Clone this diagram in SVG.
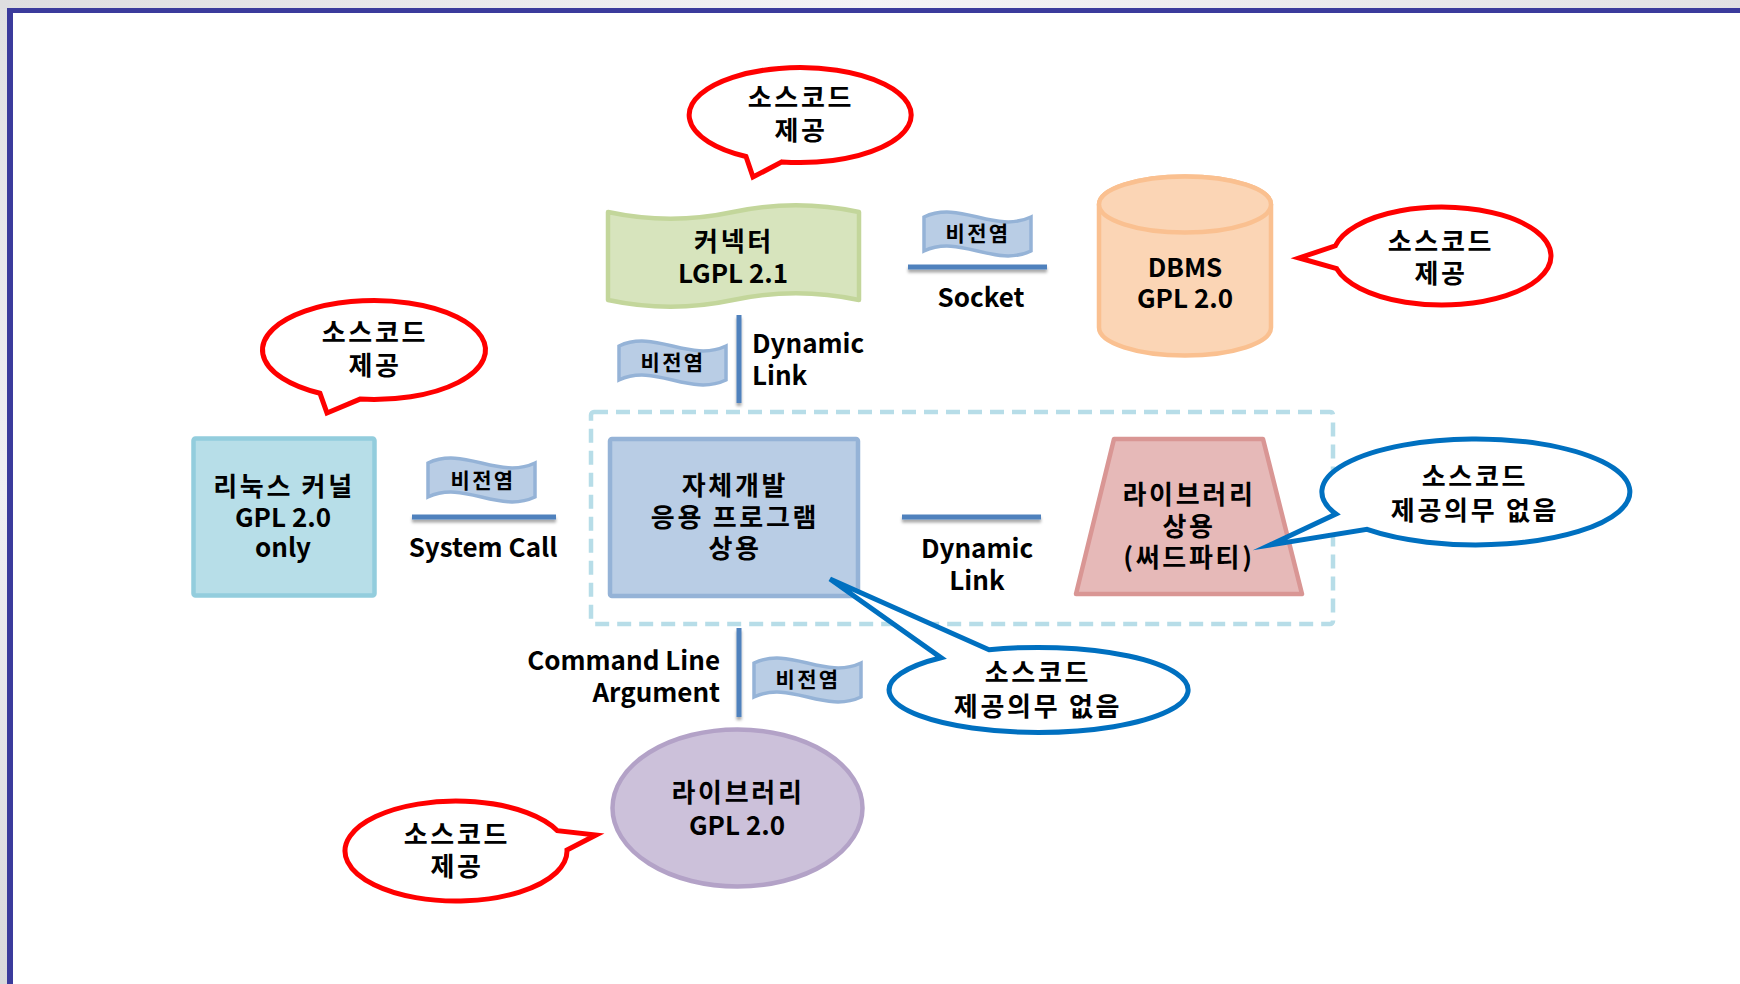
<svg xmlns="http://www.w3.org/2000/svg" xmlns:xlink="http://www.w3.org/1999/xlink" width="1740" height="984" viewBox="0 0 1740 984">
<style>
.t{font-family:"Malgun Gothic","Noto Sans CJK KR","Noto Sans",sans-serif;font-weight:bold;font-size:26px;fill:#000;text-anchor:middle}
.k{letter-spacing:2.7px}
.f{font-size:21px;letter-spacing:2.3px}
.ln{stroke:#4F81BD;stroke-width:5;fill:none;filter:url(#sh)}
.cr{fill:#fff;stroke:#FF0000;stroke-width:5;stroke-miterlimit:10}
.cb{fill:#fff;stroke:#0070C0;stroke-width:5;stroke-miterlimit:10}
.flag{fill:#B9CDE5;stroke:#95B3D7;stroke-width:3.5}
</style>
<defs>
<linearGradient id="bg" x1="0" y1="0" x2="1" y2="0">
<stop offset="0" stop-color="#DEDEE0"/><stop offset="0.5" stop-color="#F4F3F6"/><stop offset="1" stop-color="#E2E2E4"/>
</linearGradient>
<linearGradient id="bgv" x1="0" y1="0" x2="0" y2="1">
<stop offset="0" stop-color="#E0E0E2"/><stop offset="0.5" stop-color="#F0EFF3"/><stop offset="1" stop-color="#D9D9DB"/>
</linearGradient>
<filter id="sh" filterUnits="userSpaceOnUse" x="0" y="0" width="1740" height="984">
<feDropShadow dx="0" dy="3" stdDeviation="1.5" flood-color="#000" flood-opacity="0.35"/>
</filter>
<path id="flagp" d="M0,5 C36,-12 71,22 107,5 L107,39 C71,56 36,22 0,39 Z"/>
</defs>

<g id="frame">
<rect x="0" y="0" width="1740" height="984" fill="url(#bgv)"/>
<rect x="0" y="0" width="1740" height="9" fill="url(#bg)"/>
<rect x="7" y="8" width="1733" height="976" fill="#3B3B9C"/>
<rect x="13" y="13" width="1727" height="971" fill="#FFFFFF"/>
</g>

<g id="group-box">
<rect x="591" y="412" width="742" height="212" rx="3" fill="none" stroke="#B7DDE8" stroke-width="4.5" stroke-dasharray="14 8"/>
</g>

<g id="connectors">
<line class="ln" x1="908" y1="267" x2="1047" y2="267"/>
<line class="ln" x1="739" y1="315" x2="739" y2="403"/>
<line class="ln" x1="412" y1="517" x2="556" y2="517"/>
<line class="ln" x1="902" y1="517" x2="1041" y2="517"/>
<line class="ln" x1="739" y1="628" x2="739" y2="717"/>
</g>

<g id="connector-labels">
<text class="t" x="981" y="307">Socket</text>
<text class="t" x="752" y="353" style="text-anchor:start">Dynamic</text>
<text class="t" x="752" y="385" style="text-anchor:start">Link</text>
<text class="t" x="483" y="557">System Call</text>
<text class="t" x="977" y="558">Dynamic</text>
<text class="t" x="977" y="590">Link</text>
<text class="t" x="720" y="670" style="text-anchor:end">Command Line</text>
<text class="t" x="720" y="702" style="text-anchor:end">Argument</text>
</g>

<g id="flag-socket">
<use xlink:href="#flagp" class="flag" x="924" y="212"/>
<text class="t f" x="978" y="241">비전염</text>
</g>
<g id="flag-dynamic">
<use xlink:href="#flagp" class="flag" x="619" y="341"/>
<text class="t f" x="673" y="370">비전염</text>
</g>
<g id="flag-syscall">
<use xlink:href="#flagp" class="flag" x="428" y="458"/>
<text class="t f" x="483" y="488">비전염</text>
</g>
<g id="flag-cmdline">
<use xlink:href="#flagp" class="flag" x="754" y="658"/>
<text class="t f" x="808" y="687">비전염</text>
</g>

<g id="connector-node">
<path d="M608,212 C650,221 691,221 733,212 C775,203 817,203 859,212 L859,300 C817,291 775,291 733,300 C691,309 650,309 608,300 Z" fill="#D7E4BD" stroke="#C3D69B" stroke-width="4.5" stroke-linejoin="round"/>
<text class="t k" x="734" y="251">커넥터</text>
<text class="t" x="733" y="283">LGPL 2.1</text>
</g>

<g id="dbms">
<path d="M1099,204.5 L1099,327.5 A86,28 0 0 0 1271,327.5 L1271,204.5 A86,28 0 0 0 1099,204.5 Z" fill="#FBD5B5" stroke="#FAC090" stroke-width="4.5"/>
<ellipse cx="1185" cy="204.5" rx="86" ry="28" fill="#FBD5B5" stroke="#FAC090" stroke-width="4.5"/>
<text class="t" x="1185" y="277">DBMS</text>
<text class="t" x="1185" y="308">GPL 2.0</text>
</g>

<g id="linux">
<rect x="193.5" y="438.5" width="181" height="157" rx="2" fill="#B7DEE8" stroke="#93CDDD" stroke-width="4.5"/>
<text class="t k" x="284" y="496">리눅스 커널</text>
<text class="t" x="283" y="527">GPL 2.0</text>
<text class="t" x="283" y="557">only</text>
</g>

<g id="app">
<rect x="610" y="439" width="248" height="157" rx="2" fill="#B9CDE5" stroke="#95B3D7" stroke-width="4.5"/>
<text class="t k" x="735" y="495">자체개발</text>
<text class="t k" x="735" y="527">응용 프로그램</text>
<text class="t k" x="735" y="558">상용</text>
</g>

<g id="third-party">
<path d="M1114,439 L1263,439 L1302,594 L1076,594 Z" fill="#E6B9B8" stroke="#D99694" stroke-width="4.5" stroke-linejoin="round"/>
<text class="t k" x="1189" y="504">라이브러리</text>
<text class="t k" x="1189" y="536">상용</text>
<text class="t k" x="1189" y="567">(써드파티)</text>
</g>

<g id="gpl-lib">
<ellipse cx="737.5" cy="808" rx="125" ry="78.5" fill="#CCC1DA" stroke="#B3A2C7" stroke-width="4.5"/>
<text class="t k" x="738" y="802">라이브러리</text>
<text class="t" x="737" y="835">GPL 2.0</text>
</g>

<g id="callout-top">
<path class="cr" d="M746,156.5 A111,47.5 0 1 1 782,161.9 L753,177 Z"/>
<text class="t k" x="801" y="107">소스코드</text>
<text class="t k" x="801" y="140">제공</text>
</g>

<g id="callout-dbms">
<path class="cr" d="M1335.4,245.8 A109,49 0 1 1 1336.7,268.7 L1299,258 Z"/>
<text class="t k" x="1441" y="251">소스코드</text>
<text class="t k" x="1441" y="283">제공</text>
</g>

<g id="callout-linux">
<path class="cr" d="M320,393.3 A111.5,49.5 0 1 1 360,399.1 L327,413 Z"/>
<text class="t k" x="375" y="342">소스코드</text>
<text class="t k" x="375" y="375">제공</text>
</g>

<g id="callout-gpl-lib">
<path class="cr" d="M567,850.1 A111,50 0 1 1 557.4,830.7 L596,835 Z"/>
<text class="t k" x="457" y="844">소스코드</text>
<text class="t k" x="457" y="876">제공</text>
</g>

<g id="callout-third-party">
<path class="cb" d="M1336,514.1 A154,53 0 1 1 1367,529.4 L1270,545 Z"/>
<text class="t k" x="1475" y="486">소스코드</text>
<text class="t k" x="1475" y="520">제공의무 없음</text>
</g>

<g id="callout-app">
<path class="cb" d="M989,649.8 A149.5,42.5 0 1 1 941,657.7 L830,579 Z"/>
<text class="t k" x="1038" y="682">소스코드</text>
<text class="t k" x="1038" y="716">제공의무 없음</text>
</g>
</svg>
